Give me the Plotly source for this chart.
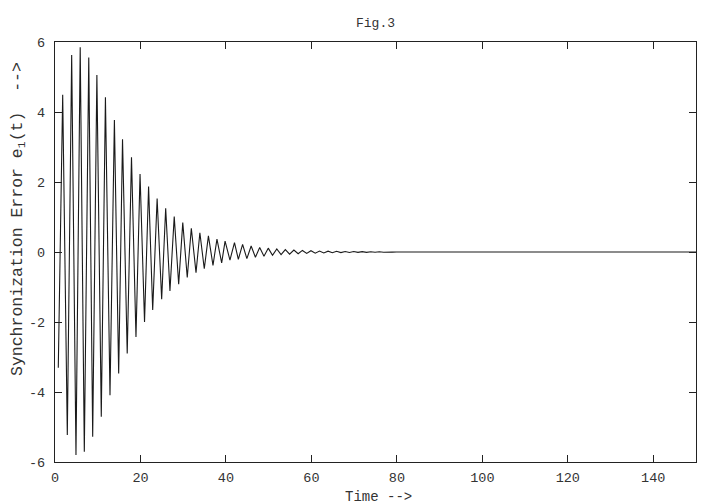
import plotly.graph_objects as go

time = [0.77, 1.8, 2.88, 3.9, 4.91, 5.9, 6.86, 7.9, 8.82, 9.8, 10.83, 11.8,
        12.87, 13.9, 14.9, 15.8, 16.9, 17.9, 18.95, 19.9, 20.95, 21.9, 22.86,
        23.9, 24.96, 25.9, 26.9, 27.9, 28.94, 29.9, 30.95, 31.9, 33.0, 33.9,
        34.93, 35.9, 36.97, 37.9, 39.0, 39.8, 40.94, 42.0, 42.9, 43.9, 44.9,
        45.9, 46.9, 47.9, 48.9, 49.9, 50.9, 51.9, 52.9, 53.9, 54.9, 55.9, 56.9,
        57.9, 58.9, 59.9, 60.9, 61.9, 62.9, 63.9, 64.9, 65.9, 66.9, 67.9, 68.9,
        69.9, 70.9, 71.9, 72.9, 73.9, 74.9, 75.9, 76.9, 77.9, 78.9, 79.9, 150.0]
error = [-3.31, 4.49, -5.23, 5.63, -5.80, 5.85, -5.71, 5.56, -5.28, 5.06, -4.71,
         4.42, -4.09, 3.77, -3.47, 3.22, -2.90, 2.71, -2.43, 2.23, -2.00, 1.87,
         -1.66, 1.53, -1.35, 1.25, -1.11, 1.01, -0.92, 0.84, -0.73, 0.68, -0.59,
         0.55, -0.48, 0.46, -0.38, 0.37, -0.31, 0.31, -0.23, 0.27, -0.21, 0.22,
         -0.19, 0.17, -0.15, 0.13, -0.12, 0.11, -0.095, 0.085, -0.075, 0.07,
         -0.06, 0.055, -0.05, 0.045, -0.04, 0.036, -0.032, 0.029, -0.026, 0.023,
         -0.021, 0.019, -0.017, 0.015, -0.013, 0.012, -0.011, 0.01, -0.009,
         0.008, -0.007, 0.006, -0.005, 0.004, -0.003, 0.0, 0.0]

x_ticks = [0, 20, 40, 60, 80, 100, 120, 140]
y_ticks = [-6, -4, -2, 0, 2, 4, 6]

font_family = "Liberation Mono, Courier New, monospace"
text_color = "#333333"

fig = go.Figure()
fig.add_trace(go.Scatter(x=time, y=error, mode="lines",
                         line=dict(color="#1a1a1a", width=1.1),
                         showlegend=False, hoverinfo="skip"))

axis_common = dict(showline=True, linecolor="#222222", linewidth=1.3,
                   mirror="ticks", ticks="inside", ticklen=7,
                   tickcolor="#222222", tickwidth=1, showgrid=False,
                   zeroline=False, automargin=False,
                   tickfont=dict(family=font_family, size=13.5, color=text_color))

fig.update_xaxes(range=[0, 150], tickvals=x_ticks,
                 ticktext=[str(v) for v in x_ticks], ticklabelstandoff=3,
                 **axis_common)
fig.update_yaxes(range=[-6, 6], tickvals=y_ticks,
                 ticktext=[str(v) for v in y_ticks], ticklabelstandoff=6,
                 **axis_common)

# The page is drawn with an 8px body offset, so margins are shifted accordingly
fig.update_layout(
    width=720, height=504,
    margin=dict(l=47, r=32, t=34, b=50),
    paper_bgcolor="white", plot_bgcolor="white",
    title=dict(text="Fig.3", x=0.5, xref="paper", xanchor="center",
               y=1 - 14 / 504, yref="container", yanchor="middle",
               font=dict(family=font_family, size=13, color=text_color)),
)

fig.add_annotation(text="Synchronization Error e<sub>1</sub>(t)  --&gt;",
                   xref="paper", yref="paper", x=0, y=0.5786,
                   xanchor="center", yanchor="middle", xshift=-37,
                   textangle=-90, showarrow=False,
                   font=dict(family=font_family, size=16.5, color=text_color))
fig.add_annotation(text="Time --&gt;",
                   xref="paper", yref="paper", x=0.505, y=0,
                   xanchor="center", yanchor="middle", yshift=-35,
                   showarrow=False,
                   font=dict(family=font_family, size=14, color=text_color))

fig.write_html("out.html")
